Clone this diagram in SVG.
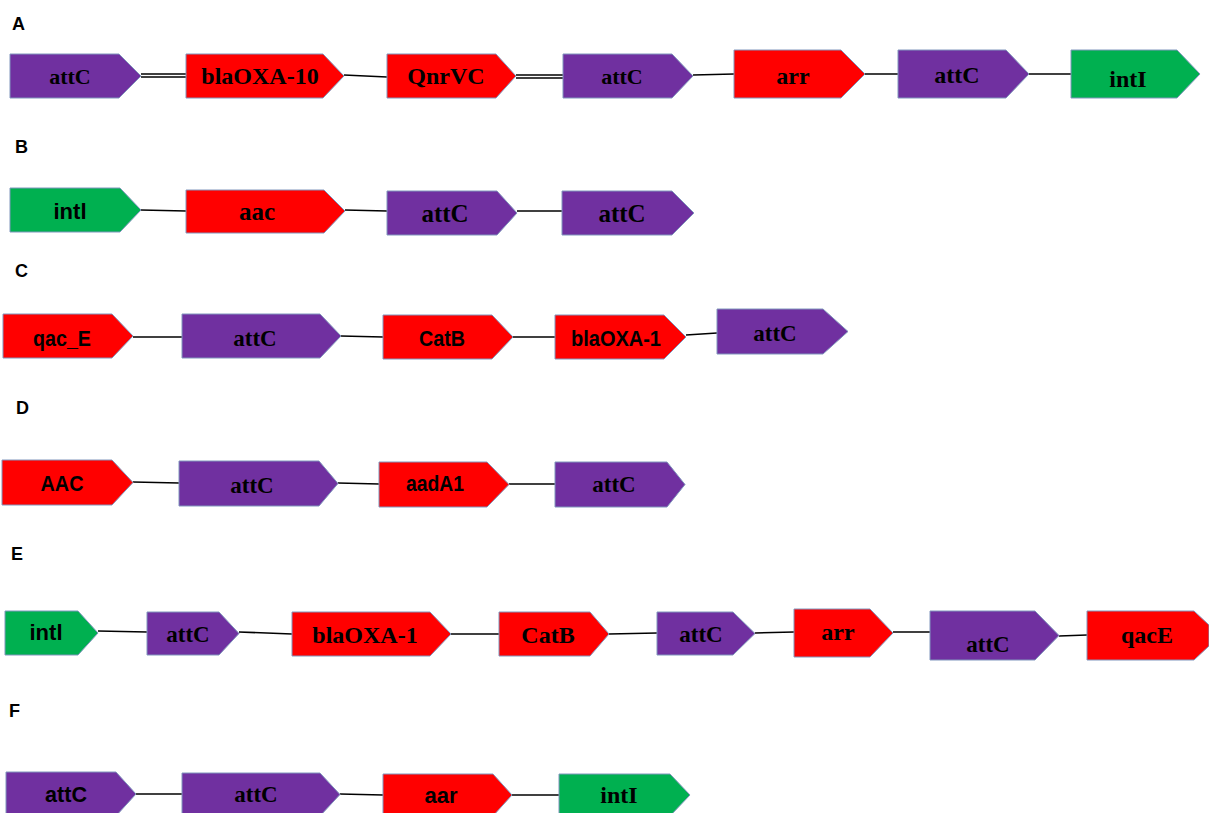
<svg xmlns="http://www.w3.org/2000/svg" width="1209" height="813" viewBox="0 0 1209 813">
<style>
.p{fill:#7030A0}.r{fill:#FF0000}.g{fill:#00B050}
polygon{stroke:#8096bd;stroke-width:1}
.lab{font-family:"Liberation Sans",Arial,sans-serif;font-weight:bold;font-size:18px;fill:#000}
.tb{font-family:"Liberation Serif","Times New Roman",serif;font-weight:bold;font-size:24px;fill:#000;text-anchor:middle}
.ts{font-family:"Liberation Sans",Arial,sans-serif;font-weight:bold;font-size:22px;fill:#000;text-anchor:middle}
.conn line{stroke:#000;stroke-width:1.6}
</style>
<rect width="1209" height="813" fill="#fff"/>
<g id="labels">
<text class="lab" x="12" y="30">A</text>
<text class="lab" x="15" y="153">B</text>
<text class="lab" x="15" y="277">C</text>
<text class="lab" x="16" y="414">D</text>
<text class="lab" x="11" y="560">E</text>
<text class="lab" x="9" y="717">F</text>
</g>
<g class="conn" id="connectors">
<line x1="141" y1="74" x2="186" y2="74"/><line x1="141" y1="77" x2="186" y2="77"/>
<line x1="344" y1="75" x2="387" y2="77"/>
<line x1="516" y1="75" x2="563" y2="75"/><line x1="516" y1="78" x2="563" y2="78"/>
<line x1="693" y1="75" x2="734" y2="74"/>
<line x1="865" y1="74" x2="898" y2="74"/>
<line x1="1029" y1="74" x2="1071" y2="74"/>
<line x1="141" y1="210" x2="186" y2="211"/>
<line x1="345" y1="210" x2="387" y2="211"/>
<line x1="517" y1="211" x2="562" y2="211"/>
<line x1="133" y1="337" x2="182" y2="337"/>
<line x1="341" y1="336" x2="383" y2="337"/>
<line x1="513" y1="337" x2="555" y2="337"/>
<line x1="686" y1="335" x2="717" y2="333"/>
<line x1="133" y1="482" x2="179" y2="483"/>
<line x1="338" y1="483" x2="379" y2="484"/>
<line x1="509" y1="484" x2="555" y2="484"/>
<line x1="98" y1="631" x2="147" y2="632"/>
<line x1="239" y1="632" x2="292" y2="634"/>
<line x1="451" y1="634" x2="499" y2="634"/>
<line x1="609" y1="634" x2="657" y2="633"/>
<line x1="755" y1="633" x2="794" y2="632"/>
<line x1="893" y1="632" x2="930" y2="632"/>
<line x1="1059" y1="636" x2="1087" y2="635"/>
<line x1="136" y1="794" x2="182" y2="794"/>
<line x1="340" y1="794" x2="383" y2="795"/>
<line x1="512" y1="795" x2="559" y2="795"/>
</g>
<g id="rowA">
<g id="A1"><polygon class="p" points="10,54 119,54 141,76 119,98 10,98"/><text class="tb" x="70" y="84" style="font-size:22px">attC</text></g>
<g id="A2"><polygon class="r" points="186,54 323,54 344,76 323,98 186,98"/><text class="tb" x="260" y="84">blaOXA-10</text></g>
<g id="A3"><polygon class="r" points="387,54 496,54 516,76 496,98 387,98"/><text class="tb" x="446" y="84">QnrVC</text></g>
<g id="A4"><polygon class="p" points="563,54 672,54 693,76 672,98 563,98"/><text class="tb" x="622" y="84" style="font-size:22px">attC</text></g>
<g id="A5"><polygon class="r" points="734,50 841,50 865,74 841,98 734,98"/><text class="tb" x="793" y="84">arr</text></g>
<g id="A6"><polygon class="p" points="898,50 1006,50 1029,74 1006,98 898,98"/><text class="tb" x="957" y="83">attC</text></g>
<g id="A7"><polygon class="g" points="1071,50 1177,50 1200,74 1177,98 1071,98"/><text class="tb" x="1128" y="87">intI</text></g>
</g>
<g id="rowB">
<g id="B1"><polygon class="g" points="10,188 120,188 141,210 120,232 10,232"/><text class="ts" x="70" y="219" textLength="33" lengthAdjust="spacingAndGlyphs">intl</text></g>
<g id="B2"><polygon class="r" points="186,190 324,190 345,211 324,233 186,233"/><text class="tb" x="257" y="220" style="font-size:25px">aac</text></g>
<g id="B3"><polygon class="p" points="387,191 497,191 517,213 497,235 387,235"/><text class="tb" x="445" y="222" style="font-size:25px">attC</text></g>
<g id="B4"><polygon class="p" points="562,191 672,191 694,213 672,235 562,235"/><text class="tb" x="622" y="222" style="font-size:25px">attC</text></g>
</g>
<g id="rowC">
<g id="C1"><polygon class="r" points="3,314 112,314 133,336 112,358 3,358"/><text class="ts" x="62" y="346" textLength="58" lengthAdjust="spacingAndGlyphs">qac_E</text></g>
<g id="C2"><polygon class="p" points="182,314 320,314 341,336 320,358 182,358"/><text class="tb" x="255" y="346" style="font-size:23px">attC</text></g>
<g id="C3"><polygon class="r" points="383,315 492,315 513,337 492,359 383,359"/><text class="ts" x="442" y="346" textLength="46" lengthAdjust="spacingAndGlyphs">CatB</text></g>
<g id="C4"><polygon class="r" points="555,315 664,315 686,337 664,359 555,359"/><text class="ts" x="616" y="346" textLength="90" lengthAdjust="spacingAndGlyphs">blaOXA-1</text></g>
<g id="C5"><polygon class="p" points="717,309 823,309 848,331.5 823,354 717,354"/><text class="tb" x="775" y="341" style="font-size:23px">attC</text></g>
</g>
<g id="rowD">
<g id="D1"><polygon class="r" points="2,460 112,460 133,482.5 112,505 2,505"/><text class="ts" x="62" y="491" textLength="43" lengthAdjust="spacingAndGlyphs">AAC</text></g>
<g id="D2"><polygon class="p" points="179,461 319,461 338,483.5 319,506 179,506"/><text class="tb" x="252" y="493" style="font-size:23px">attC</text></g>
<g id="D3"><polygon class="r" points="379,462 487,462 509,484.5 487,507 379,507"/><text class="ts" x="435" y="491" textLength="58" lengthAdjust="spacingAndGlyphs">aadA1</text></g>
<g id="D4"><polygon class="p" points="555,462 667,462 685,484.5 667,507 555,507"/><text class="tb" x="614" y="492" style="font-size:23px">attC</text></g>
</g>
<g id="rowE">
<g id="E1"><polygon class="g" points="5,611 78,611 98,633 78,655 5,655"/><text class="ts" x="46" y="640" textLength="33" lengthAdjust="spacingAndGlyphs">intl</text></g>
<g id="E2"><polygon class="p" points="147,612 219,612 239,633.5 219,655 147,655"/><text class="tb" x="188" y="642" style="font-size:23px">attC</text></g>
<g id="E3"><polygon class="r" points="292,612 430,612 451,634 430,656 292,656"/><text class="tb" x="365" y="643">blaOXA-1</text></g>
<g id="E4"><polygon class="r" points="499,612 590,612 609,634 590,656 499,656"/><text class="tb" x="548" y="643">CatB</text></g>
<g id="E5"><polygon class="p" points="657,612 733,612 755,633.5 733,655 657,655"/><text class="tb" x="701" y="642" style="font-size:23px">attC</text></g>
<g id="E6"><polygon class="r" points="794,609 870,609 893,633 870,657 794,657"/><text class="tb" x="838" y="640">arr</text></g>
<g id="E7"><polygon class="p" points="930,611 1035,611 1059,635.5 1035,660 930,660"/><text class="tb" x="988" y="652" style="font-size:23px">attC</text></g>
<g id="E8"><polygon class="r" points="1087,611 1194,611 1209,625 1209,646 1194,660 1087,660"/><text class="tb" x="1147" y="643">qacE</text></g>
</g>
<g id="rowF">
<g id="F1"><polygon class="p" points="6,772 116,772 136,794 116,816 6,816"/><text class="ts" x="66" y="802" textLength="42" lengthAdjust="spacingAndGlyphs">attC</text></g>
<g id="F2"><polygon class="p" points="182,773 320,773 340,794.5 320,816 182,816"/><text class="tb" x="256" y="802" style="font-size:23px">attC</text></g>
<g id="F3"><polygon class="r" points="383,774 493,774 512,795 493,816 383,816"/><text class="ts" x="441" y="803" textLength="33" lengthAdjust="spacingAndGlyphs">aar</text></g>
<g id="F4"><polygon class="g" points="559,774 670,774 690,795 670,816 559,816"/><text class="tb" x="619" y="803">intI</text></g>
</g>
</svg>
